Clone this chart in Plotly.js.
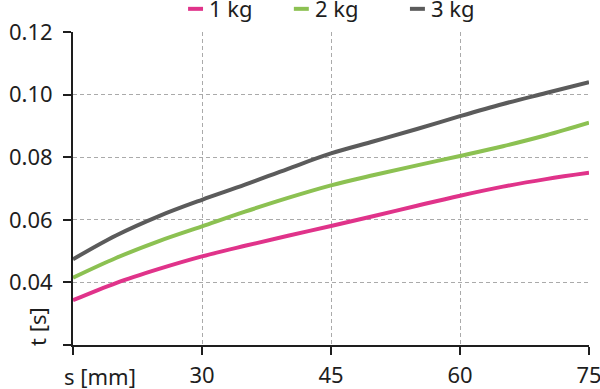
<!DOCTYPE html>
<html>
<head>
<meta charset="utf-8">
<script src="https://cdn.plot.ly/plotly-3.0.1.min.js"></script>
<style>html,body{margin:0;padding:0;background:#fff;}#chart{width:600px;height:389px;}</style>
</head>
<body>
<div id="chart"></div>
<script>
const s = [15, 20, 25, 30, 35, 40, 45, 50, 55, 60, 65, 70, 75];
const t1 = [0.0343, 0.0398, 0.0443, 0.0483, 0.0517, 0.0549, 0.0580, 0.0612, 0.0645, 0.0677, 0.0706, 0.0730, 0.0750];
const t2 = [0.0415, 0.0478, 0.0532, 0.0579, 0.0626, 0.0670, 0.0710, 0.0743, 0.0774, 0.0804, 0.0835, 0.0870, 0.0910];
const t3 = [0.0474, 0.0550, 0.0612, 0.0664, 0.0712, 0.0763, 0.0812, 0.0851, 0.0890, 0.0931, 0.0970, 0.1005, 0.1040];
const seriesNames = ['1 kg', '2 kg', '3 kg'];
const colors = ['#e0338a', '#8cc152', '#5b5b5b'];
const xTickVals = [15, 30, 45, 60, 75];
const xTickText = ['', '30', '45', '60', '75'];
const yTickVals = [0.02, 0.04, 0.06, 0.08, 0.10, 0.12];
const yTickText = ['', '0.04', '0.06', '0.08', '0.10', '0.12'];
const xTitle = 's [mm]';
const yTitle = 't [s]';

const ys = [t1, t2, t3];
const traces = ys.map((y, i) => ({
  x: s, y: y, name: seriesNames[i], type: 'scatter', mode: 'lines',
  line: {color: colors[i], width: 4, shape: 'spline', smoothing: 1},
  cliponaxis: false, showlegend: false
}));

const FAM = 'Noto Sans, sans-serif';
const font = {family: FAM, size: 22, color: '#1e1e1e'};

// custom legend (short swatches) placed above the plot, in paper coordinates
const legendX = [0.223, 0.428, 0.653];   // swatch start (paper fraction)
const swW = 0.029, legY = 1.074;
const shapes = [], annotations = [];
seriesNames.forEach((n, i) => {
  shapes.push({type: 'line', xref: 'paper', yref: 'paper', x0: legendX[i], x1: legendX[i] + swW,
               y0: legY, y1: legY, line: {color: colors[i], width: 4}});
  annotations.push({text: n, xref: 'paper', yref: 'paper', x: legendX[i] + swW + 0.01, y: legY + 0.004,
                    xanchor: 'left', yanchor: 'middle', showarrow: false, font: font, borderpad: 0});
});
annotations.push({text: yTitle, xref: 'paper', yref: 'paper', x: -0.07, y: -0.008, xanchor: 'center', yanchor: 'bottom',
                  textangle: -90, showarrow: false, font: font});
annotations.push({text: xTitle, xref: 'paper', yref: 'paper', x: -0.022, y: -0.098, xanchor: 'left', yanchor: 'middle',
                  showarrow: false, font: font});

const layout = {
  width: 600, height: 389,
  margin: {l: 73, r: 11, t: 32, b: 44},
  paper_bgcolor: '#fff', plot_bgcolor: '#fff',
  font: font,
  showlegend: false,
  xaxis: {
    range: [15, 75], tickvals: xTickVals, ticktext: xTickText,
    showgrid: true, gridcolor: '#aaaaaa', griddash: '4px,3px', gridwidth: 1,
    showline: true, linecolor: '#1e1e1e', linewidth: 2,
    ticks: 'outside', ticklen: 8, tickwidth: 2, tickcolor: '#1e1e1e', ticklabelstandoff: 2,
    zeroline: false, tickfont: font, ticklabeloverflow: 'allow', automargin: false
  },
  yaxis: {
    range: [0.02, 0.12], tickvals: yTickVals, ticktext: yTickText,
    showgrid: true, gridcolor: '#aaaaaa', griddash: '4px,3px', gridwidth: 1,
    showline: true, linecolor: '#1e1e1e', linewidth: 2,
    ticks: 'outside', ticklen: 8, tickwidth: 2, tickcolor: '#1e1e1e', ticklabelstandoff: 6,
    zeroline: false, tickfont: font, ticklabeloverflow: 'allow', automargin: false
  },
  shapes: shapes,
  annotations: annotations
};
Plotly.newPlot('chart', traces, layout, {displayModeBar: false, staticPlot: true});
</script>
</body>
</html>
